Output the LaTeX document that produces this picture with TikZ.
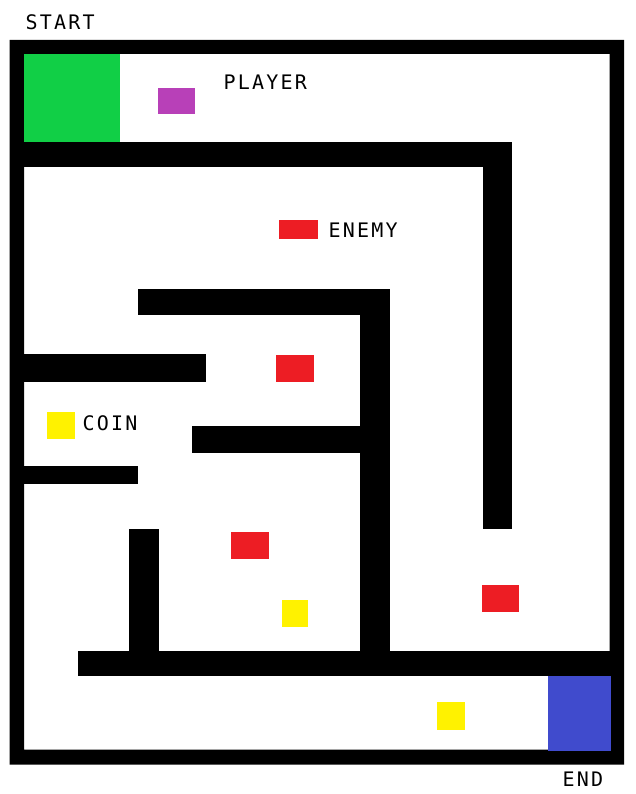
\documentclass[tikz,border=0pt]{standalone}
\usepackage{fontspec}
\newfontfamily\mazefont[LetterSpace=11]{DejaVu Sans Mono}
\definecolor{startgreen}{RGB}{17,207,70}
\definecolor{playerpurple}{RGB}{184,64,184}
\definecolor{enemyred}{RGB}{237,29,36}
\definecolor{coinyellow}{RGB}{255,242,0}
\definecolor{endblue}{RGB}{64,75,205}
\begin{document}
\begin{tikzpicture}[x=1pt,y=-1pt,
  wall/.style={fill=black},
  enemy/.style={fill=enemyred},
  coin/.style={fill=coinyellow},
  lbl/.style={font=\mazefont\fontsize{20}{20}\selectfont, anchor=base west, inner sep=0pt, text=black}]
\useasboundingbox[fill=white] (0,0) rectangle (636,794);
% outer frame
\fill[wall,even odd rule] (9.5,40) rectangle (624,764.5) (24,54) rectangle (609.5,749.5);
% start and end areas
\fill[startgreen] (24,54) rectangle (120,142);
\fill[endblue] (548,676) rectangle (610.5,750.5);
% inner walls
\fill[wall] (24,142) rectangle (511.7,167);
\fill[wall] (483.3,142) rectangle (511.7,529);
\fill[wall] (138.3,289.3) rectangle (390.3,314.7);
\fill[wall] (360.3,289.3) rectangle (390.3,676);
\fill[wall] (24,354) rectangle (206,382);
\fill[wall] (192.3,425.7) rectangle (390.3,452.7);
\fill[wall] (24,466) rectangle (138.3,484);
\fill[wall] (129.3,529) rectangle (159.3,676);
\fill[wall] (78.3,650.7) rectangle (609.5,676);
% player
\fill[playerpurple] (158,88) rectangle (195,113.7);
% enemies
\fill[enemy] (279,220) rectangle (318.3,239.3);
\fill[enemy] (276.3,355) rectangle (314,382);
\fill[enemy] (231,532) rectangle (269,559);
\fill[enemy] (482,585) rectangle (519.3,611.7);
% coins
\fill[coin] (47,412) rectangle (75.3,439);
\fill[coin] (282,600) rectangle (308,627);
\fill[coin] (437,701.7) rectangle (465,730);
% labels
\node[lbl] (start) at (25.5,30) {START};
\node[lbl] (player) at (223.5,90) {PLAYER};
\node[lbl] (enemylbl) at (328.5,237) {ENEMY};
\node[lbl] (coinlbl) at (82.5,430.7) {COIN};
\node[lbl] (end) at (562.5,786) {END};
\end{tikzpicture}
\end{document}
